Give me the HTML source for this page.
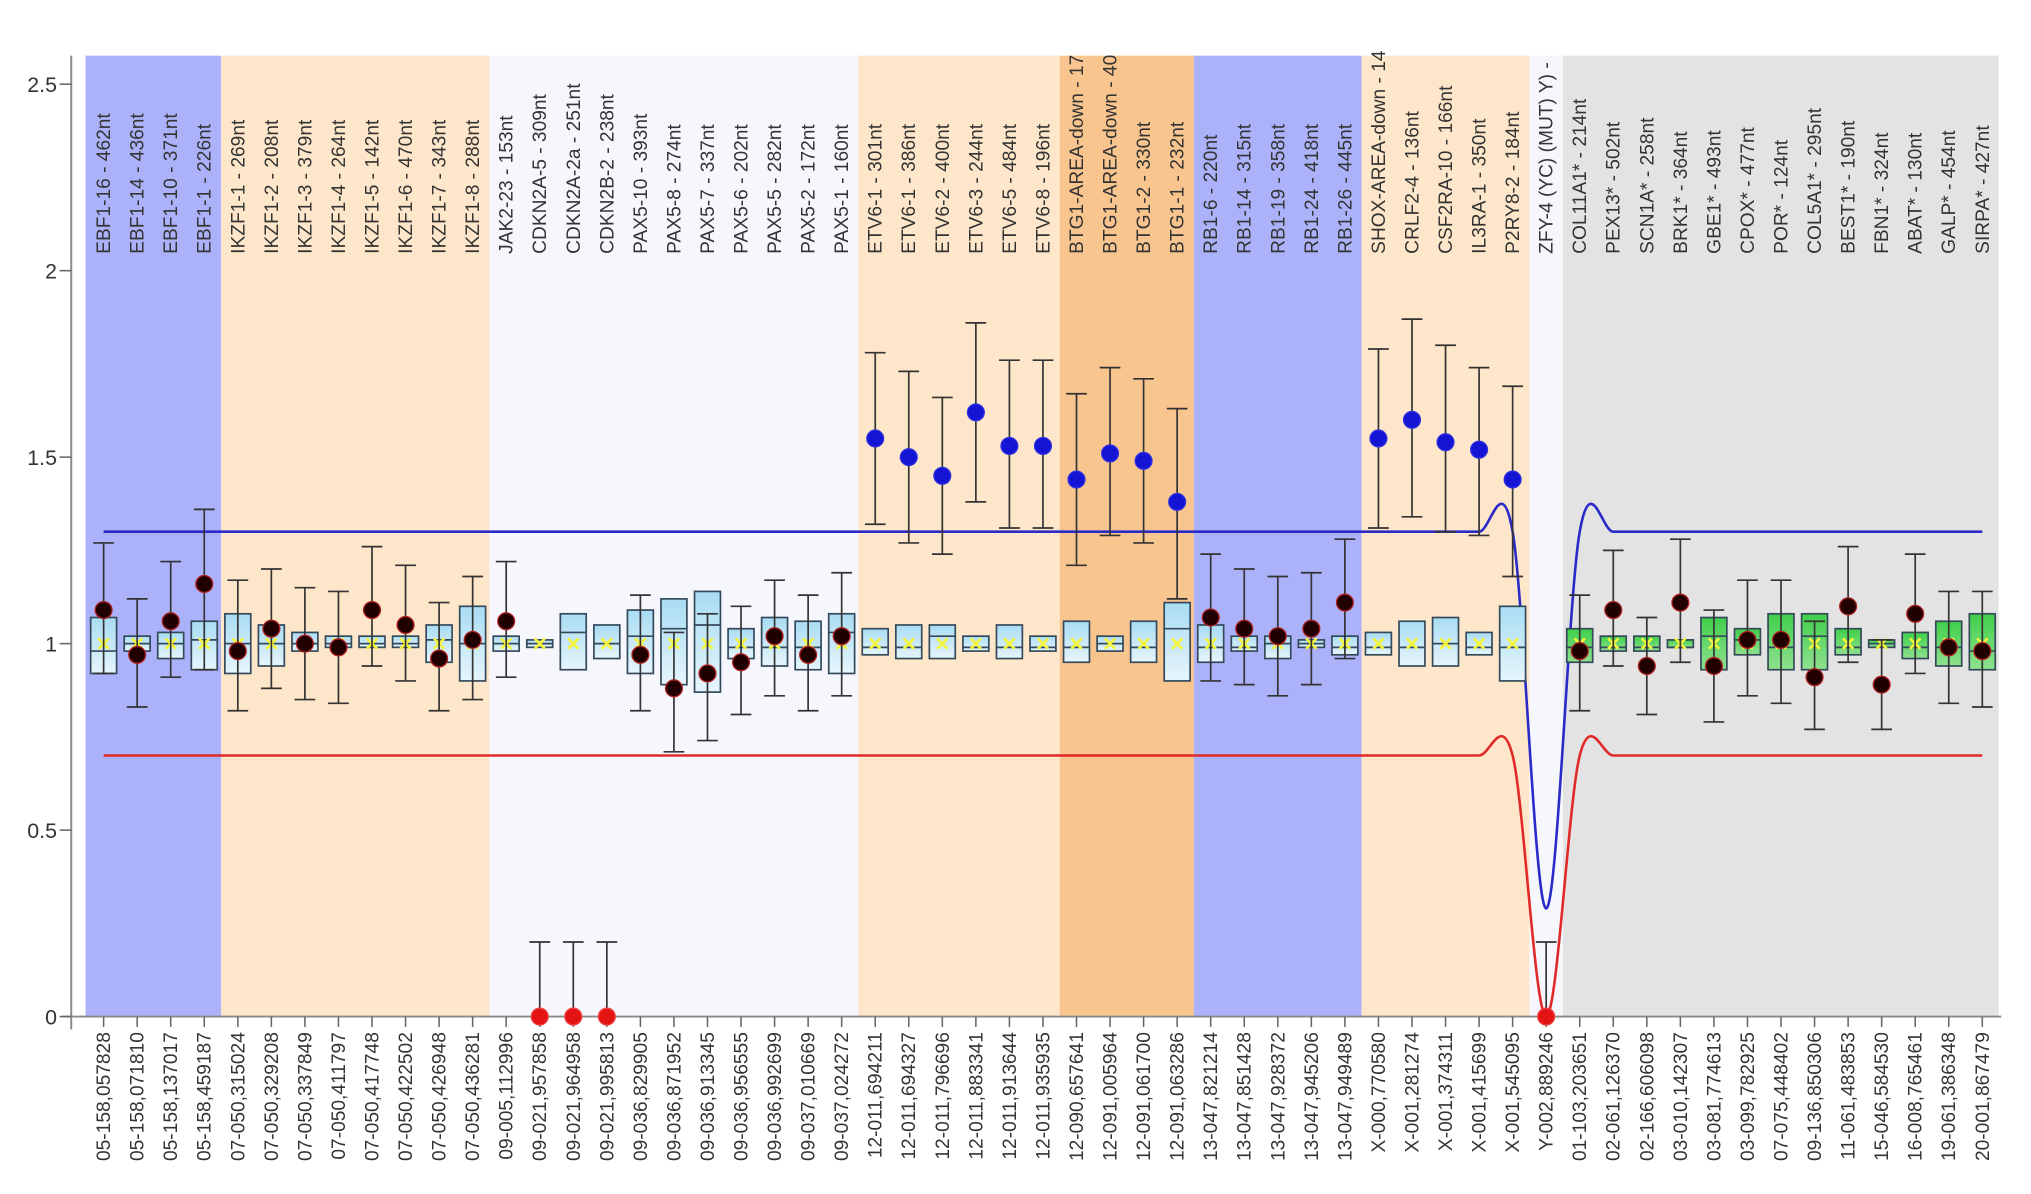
<!DOCTYPE html>
<html><head><meta charset="utf-8"><title>Probe ratio chart</title>
<style>
html,body{margin:0;padding:0;background:#fff;}
svg{display:block;font-family:"Liberation Sans",Arial,sans-serif;}
</style></head>
<body>
<svg id="chart" width="2031" height="1194" viewBox="0 0 1568 922" preserveAspectRatio="none" xmlns="http://www.w3.org/2000/svg">
<defs>
<linearGradient id="gBlue" x1="0" y1="0" x2="0" y2="1"><stop offset="0" stop-color="#a9dcf3"/><stop offset="1" stop-color="#e6f5fc"/></linearGradient>
<linearGradient id="gGreen" x1="0" y1="0" x2="0" y2="1"><stop offset="0" stop-color="#3fcf4a"/><stop offset="1" stop-color="#8fe08f"/></linearGradient>
<clipPath id="topClip"><rect x="0" y="16" width="1568" height="906"/></clipPath>
</defs>
<g id="bands"></g><g id="axes"></g><g id="lines"></g><g id="marks"></g><g id="labels" clip-path="url(#topClip)"></g>
</svg>
<script>
const probeNames = ["EBF1-16 - 462nt","EBF1-14 - 436nt","EBF1-10 - 371nt","EBF1-1 - 226nt","IKZF1-1 - 269nt","IKZF1-2 - 208nt","IKZF1-3 - 379nt","IKZF1-4 - 264nt","IKZF1-5 - 142nt","IKZF1-6 - 470nt","IKZF1-7 - 343nt","IKZF1-8 - 288nt","JAK2-23 - 153nt","CDKN2A-5 - 309nt","CDKN2A-2a - 251nt","CDKN2B-2 - 238nt","PAX5-10 - 393nt","PAX5-8 - 274nt","PAX5-7 - 337nt","PAX5-6 - 202nt","PAX5-5 - 282nt","PAX5-2 - 172nt","PAX5-1 - 160nt","ETV6-1 - 301nt","ETV6-1 - 386nt","ETV6-2 - 400nt","ETV6-3 - 244nt","ETV6-5 - 484nt","ETV6-8 - 196nt","BTG1-AREA-down - 17","BTG1-AREA-down - 40","BTG1-2 - 330nt","BTG1-1 - 232nt","RB1-6 - 220nt","RB1-14 - 315nt","RB1-19 - 358nt","RB1-24 - 418nt","RB1-26 - 445nt","SHOX-AREA-down - 14","CRLF2-4 - 136nt","CSF2RA-10 - 166nt","IL3RA-1 - 350nt","P2RY8-2 - 184nt","ZFY-4 (YC) (MUT) Y) -","COL11A1* - 214nt","PEX13* - 502nt","SCN1A* - 258nt","BRK1* - 364nt","GBE1* - 493nt","CPOX* - 477nt","POR* - 124nt","COL5A1* - 295nt","BEST1* - 190nt","FBN1* - 324nt","ABAT* - 130nt","GALP* - 454nt","SIRPA* - 427nt"];
const positions = ["05-158,057828","05-158,071810","05-158,137017","05-158,459187","07-050,315024","07-050,329208","07-050,337849","07-050,411797","07-050,417748","07-050,422502","07-050,426948","07-050,436281","09-005,112996","09-021,957858","09-021,964958","09-021,995813","09-036,829905","09-036,871952","09-036,913345","09-036,956555","09-036,992699","09-037,010669","09-037,024272","12-011,694211","12-011,694327","12-011,796696","12-011,883341","12-011,913644","12-011,935935","12-090,657641","12-091,005964","12-091,061700","12-091,063286","13-047,821214","13-047,851428","13-047,928372","13-047,945206","13-047,949489","X-000,770580","X-001,281274","X-001,374311","X-001,415699","X-001,545095","Y-002,889246","01-103,203651","02-061,126370","02-166,606098","03-010,142307","03-081,774613","03-099,782925","07-075,448402","09-136,850306","11-061,483853","15-046,584530","16-008,765461","19-061,386348","20-001,867479"];
const sampleRatio = [1.09,0.97,1.06,1.16,0.98,1.04,1.0,0.99,1.09,1.05,0.96,1.01,1.06,0,0,0,0.97,0.88,0.92,0.95,1.02,0.97,1.02,1.55,1.50,1.45,1.62,1.53,1.53,1.44,1.51,1.49,1.38,1.07,1.04,1.02,1.04,1.11,1.55,1.60,1.54,1.52,1.44,0,0.98,1.09,0.94,1.11,0.94,1.01,1.01,0.91,1.10,0.89,1.08,0.99,0.98];
const errLow = [0.92,0.83,0.91,0.93,0.82,0.88,0.85,0.84,0.94,0.90,0.82,0.85,0.91,0,0,0,0.82,0.71,0.74,0.81,0.86,0.82,0.86,1.32,1.27,1.24,1.38,1.31,1.31,1.21,1.29,1.27,1.12,0.90,0.89,0.86,0.89,0.96,1.31,1.34,1.30,1.29,1.18,0,0.82,0.94,0.81,0.95,0.79,0.86,0.84,0.77,0.95,0.77,0.92,0.84,0.83];
const errHigh = [1.27,1.12,1.22,1.36,1.17,1.20,1.15,1.14,1.26,1.21,1.11,1.18,1.22,0.2,0.2,0.2,1.13,1.03,1.08,1.10,1.17,1.13,1.19,1.78,1.73,1.66,1.86,1.76,1.76,1.67,1.74,1.71,1.63,1.24,1.20,1.18,1.19,1.28,1.79,1.87,1.80,1.74,1.69,0.2,1.13,1.25,1.07,1.28,1.09,1.17,1.17,1.06,1.26,1.01,1.24,1.14,1.14];
const boxLow = [0.92,0.98,0.96,0.93,0.92,0.94,0.98,0.99,0.99,0.99,0.95,0.90,0.98,0.99,0.93,0.96,0.92,0.89,0.87,0.96,0.94,0.93,0.92,0.97,0.96,0.96,0.98,0.96,0.98,0.95,0.98,0.95,0.90,0.95,0.98,0.96,0.99,0.97,0.97,0.94,0.94,0.97,0.90,null,0.95,0.98,0.98,0.99,0.93,0.97,0.93,0.93,0.97,0.99,0.96,0.94,0.93];
const boxHigh = [1.07,1.02,1.03,1.06,1.08,1.05,1.03,1.02,1.02,1.02,1.05,1.10,1.02,1.01,1.08,1.05,1.09,1.12,1.14,1.04,1.07,1.06,1.08,1.04,1.05,1.05,1.02,1.05,1.02,1.06,1.02,1.06,1.11,1.05,1.02,1.02,1.01,1.02,1.03,1.06,1.07,1.03,1.10,null,1.04,1.02,1.02,1.01,1.07,1.04,1.08,1.08,1.04,1.01,1.03,1.06,1.08];
const boxMedian = [0.98,1.0,1.0,1.01,1.0,1.0,1.0,1.0,1.0,1.0,1.01,1.0,1.0,1.0,1.03,1.0,1.02,1.04,1.05,0.99,0.99,0.99,1.03,0.99,0.99,1.02,0.99,0.99,0.99,0.99,1.0,0.99,1.04,0.99,0.99,1.0,1.0,0.99,0.99,0.99,1.0,0.99,0.99,null,0.99,0.99,0.99,0.99,1.02,1.01,0.99,1.02,0.99,1.0,0.99,0.99,0.98];
const upperThreshold = [1.3,1.3,1.3,1.3,1.3,1.3,1.3,1.3,1.3,1.3,1.3,1.3,1.3,1.3,1.3,1.3,1.3,1.3,1.3,1.3,1.3,1.3,1.3,1.3,1.3,1.3,1.3,1.3,1.3,1.3,1.3,1.3,1.3,1.3,1.3,1.3,1.3,1.3,1.3,1.3,1.3,1.3,1.3,0.29,1.3,1.3,1.3,1.3,1.3,1.3,1.3,1.3,1.3,1.3,1.3,1.3,1.3];
const lowerThreshold = [0.7,0.7,0.7,0.7,0.7,0.7,0.7,0.7,0.7,0.7,0.7,0.7,0.7,0.7,0.7,0.7,0.7,0.7,0.7,0.7,0.7,0.7,0.7,0.7,0.7,0.7,0.7,0.7,0.7,0.7,0.7,0.7,0.7,0.7,0.7,0.7,0.7,0.7,0.7,0.7,0.7,0.7,0.7,0.0,0.7,0.7,0.7,0.7,0.7,0.7,0.7,0.7,0.7,0.7,0.7,0.7,0.7];
const yTicks = [0,0.5,1,1.5,2,2.5];
const yTickLabels = ["0","0.5","1","1.5","2","2.5"];
const bandStart = [0,4,12,23,29,33,38,43,44];
const bandEnd = [3,11,22,28,32,37,42,43,56];
const bandColor = ["#abb2f9","#fde6c9","#f6f6fd","#fde6c9","#f9c58f","#abb2f9","#fde6c9","#f6f6fd","#e3e3e3"];

const NS="http://www.w3.org/2000/svg";
const X0=80, STEP=25.9, Y0=785, PPU=288;
const xs=i=>X0+i*STEP;
const ys=v=>Y0-v*PPU;
function mk(tag,attrs,parent){const e=document.createElementNS(NS,tag);for(const k in attrs)e.setAttribute(k,attrs[k]);parent.appendChild(e);return e;}
const gB=document.getElementById('bands'),gA=document.getElementById('axes'),gL=document.getElementById('lines'),gM=document.getElementById('marks'),gT=document.getElementById('labels');

for(let b=0;b<bandStart.length;b++){
  const x1=b===0?66:xs(bandStart[b])-STEP/2, x2=b===bandStart.length-1?1543:xs(bandEnd[b])+STEP/2;
  const r=mk('rect',{x:x1,y:43,width:x2-x1,height:Y0-43,fill:bandColor[b]},gB);
  
  
}
const ya=mk('line',{x1:55,y1:43,x2:55,y2:795,stroke:'#8a8a8a','stroke-width':1.5},gA);


const xa=mk('line',{x1:48,y1:Y0,x2:1545,y2:Y0,stroke:'#8a8a8a','stroke-width':1.5},gA);


yTicks.forEach((v,i)=>{
  mk('line',{x1:46,y1:ys(v),x2:55,y2:ys(v),stroke:'#666','stroke-width':1.2},gA);
  const t=mk('text',{x:44,y:ys(v)+6,'text-anchor':'end','font-size':16.5,fill:'#333'},gA);
  t.textContent=yTickLabels[i];
  
  
});
function curve(arr,color,name){
  const p=arr.map((v,i)=>[xs(i),ys(v)]);
  let d='M'+p[0][0]+','+p[0][1];
  for(let i=0;i<p.length-1;i++){
    const p0=p[Math.max(i-1,0)],p1=p[i],p2=p[i+1],p3=p[Math.min(i+2,p.length-1)];
    d+=' C'+(p1[0]+(p2[0]-p0[0])/6)+','+(p1[1]+(p2[1]-p0[1])/6)+' '+(p2[0]-(p3[0]-p1[0])/6)+','+(p2[1]-(p3[1]-p1[1])/6)+' '+p2[0]+','+p2[1];
  }
  const e=mk('path',{d:d,fill:'none',stroke:color,'stroke-width':2},gL);
  
  
}
curve(upperThreshold,'#2a2ac8','upper-threshold-line');
curve(lowerThreshold,'#e02a2a','lower-threshold-line');

for(let i=0;i<probeNames.length;i++){
  const x=xs(i), green=i>=44;
  mk('line',{x1:x,y1:Y0,x2:x,y2:793,stroke:'#666','stroke-width':1.2},gA);
  if(boxLow[i]!==null){
    const bx=mk('rect',{x:x-10,y:ys(boxHigh[i]),width:20,height:ys(boxLow[i])-ys(boxHigh[i]),fill:green?'url(#gGreen)':'url(#gBlue)',stroke:'#34495a','stroke-width':1.3},gM);
    
    
    mk('line',{x1:x-10,y1:ys(boxMedian[i]),x2:x+10,y2:ys(boxMedian[i]),stroke:'#34495a','stroke-width':1.3},gM);
    const cr=mk('path',{d:`M${x-4},${ys(1)-4}L${x+4},${ys(1)+4}M${x-4},${ys(1)+4}L${x+4},${ys(1)-4}`,stroke:'#f4f43a','stroke-width':2},gM);
    
    
  }
  const err=mk('path',{d:`M${x},${ys(errLow[i])}L${x},${ys(errHigh[i])}M${x-8},${ys(errHigh[i])}L${x+8},${ys(errHigh[i])}`+(errLow[i]>0?`M${x-8},${ys(errLow[i])}L${x+8},${ys(errLow[i])}`:''),stroke:'#333','stroke-width':1.3,fill:'none'},gM);
  
  
  const v=sampleRatio[i];
  const col=v>=1.3?'#1414d4':(v<=0.7?'#e41414':'#200000');
  const dot=mk('circle',{cx:x,cy:ys(v),r:6.5,fill:col,stroke:v<=0.7?'#f04040':(v>=1.3?'#3030e0':'#b02020'),'stroke-width':1},gM);
  
  
  const tl=mk('text',{transform:`translate(${x+5},196) rotate(-90)`,'font-size':14.8,fill:'#333'},gT);
  tl.textContent=probeNames[i];
  
  
  const bl=mk('text',{transform:`translate(${x+5},797) rotate(-90)`,'text-anchor':'end','font-size':14.8,fill:'#333'},gT);
  bl.textContent=positions[i];
  
  
}
</script>
</body></html>
